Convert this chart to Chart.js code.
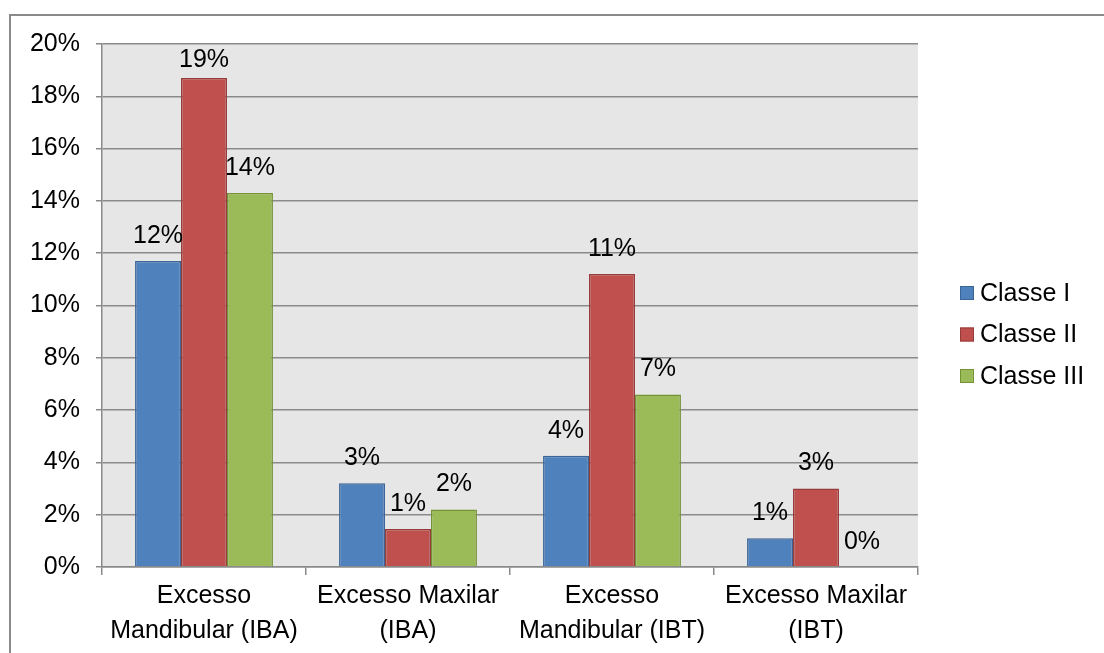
<!DOCTYPE html>
<html>
<head>
<meta charset="utf-8">
<script src="https://cdn.jsdelivr.net/npm/chart.js@4.4.0/dist/chart.umd.min.js"></script>
<style>
  html, body { margin: 0; padding: 0; background: #fff; }
  #wrap { position: relative; width: 1104px; height: 653px; }
</style>
</head>
<body>
<div id="wrap"><canvas id="chart" width="1104" height="653"></canvas></div>
<script>
// dati
var categorie = [
    ['Excesso', 'Mandibular (IBA)'],
    ['Excesso Maxilar', '(IBA)'],
    ['Excesso', 'Mandibular (IBT)'],
    ['Excesso Maxilar', '(IBT)']
];
var nomiSerie = ['Classe I', 'Classe II', 'Classe III'];
var classe1 = [0.117, 0.032, 0.0425, 0.011];
var classe2 = [0.187, 0.0145, 0.112, 0.030];
var classe3 = [0.143, 0.022, 0.066, 0.0];

var colori = ['#4F81BD', '#C0504D', '#9BBB59'];
var bordi = ['#3B6497', '#953B39', '#769237'];
var FONT = "'Liberation Sans', Arial, sans-serif";
var GRIGIO = '#8A8A8A';

//Plugin: sfondo area del grafico e cornice esterna
var sfondo = {
    id: 'sfondo',
    beforeDraw: function(chart){
        var ctx = chart.ctx, a = chart.chartArea;
        ctx.save();
        ctx.fillStyle = '#E6E6E6';
        ctx.fillRect(a.left, a.top, a.right - a.left, a.bottom - a.top);
        ctx.strokeStyle = GRIGIO;
        ctx.lineWidth = 2;
        ctx.beginPath();
        ctx.moveTo(10, 653);
        ctx.lineTo(10, 15);
        ctx.lineTo(1104, 15);
        ctx.stroke();
        ctx.restore();
    }
};

//Plugin: etichette percentuali sopra le barre
var etichette = {
    id: 'etichette',
    afterDatasetsDraw: function(chart){
        var ctx = chart.ctx;
        ctx.save();
        ctx.font = '25px ' + FONT;
        ctx.fillStyle = '#000';
        ctx.textAlign = 'center';
        ctx.textBaseline = 'middle';
        chart.data.datasets.forEach(function(ds, i){
            var meta = chart.getDatasetMeta(i);
            meta.data.forEach(function(el, j){
                var y = Math.max(el.y - 25, 60);
                ctx.fillText(Math.round(ds.data[j] * 100) + '%', el.x, y);
            });
        });
        ctx.restore();
    }
};

//Plugin: legenda disegnata a mano sulla destra
var legenda = {
    id: 'legenda',
    afterDraw: function(chart){
        var ctx = chart.ctx;
        ctx.save();
        ctx.font = '25px ' + FONT;
        ctx.textBaseline = 'middle';
        ctx.textAlign = 'left';
        chart.data.datasets.forEach(function(ds, i){
            var y = 293 + i * 41.5;
            ctx.fillStyle = ds.backgroundColor;
            ctx.fillRect(960, y - 7, 14, 14);
            ctx.strokeStyle = ds.borderColor;
            ctx.lineWidth = 1;
            ctx.strokeRect(960.5, y - 6.5, 13, 13);
            ctx.fillStyle = '#000';
            ctx.fillText(ds.label, 980, y + 1);
        });
        ctx.restore();
    }
};

var ctx1 = document.getElementById('chart');

var chart = new Chart(ctx1, {
    type: 'bar',
    data: {
        labels: categorie,
        datasets: [classe1, classe2, classe3].map(function(d, i){
            return {
                label: nomiSerie[i],
                data: d,
                backgroundColor: colori[i],
                borderColor: bordi[i],
                borderWidth: 1.5,
                borderSkipped: 'bottom'
            };
        })
    },
    options: {
        responsive: false,
        animation: false,
        devicePixelRatio: 1,
        layout: { padding: { left: 0, top: 44, right: 186, bottom: 0 } },
        categoryPercentage: 0.676,
        barPercentage: 1,
        plugins: {
            legend: { display: false },
            tooltip: { enabled: false }
        },
        scales: {
            x: {
                afterFit: function(s){ s.height = 86; },
                grid: {
                    offset: true,
                    drawOnChartArea: false,
                    drawTicks: true,
                    tickLength: 8,
                    color: GRIGIO,
                    lineWidth: 1.5
                },
                border: { color: GRIGIO, width: 1.5 },
                ticks: {
                    color: '#000',
                    padding: 4,
                    maxRotation: 0,
                    autoSkip: false,
                    font: { family: FONT, size: 25, lineHeight: 1.4 }
                }
            },
            y: {
                min: 0,
                max: 0.2,
                afterFit: function(s){ s.width = 102; },
                grid: {
                    color: GRIGIO,
                    lineWidth: 1.5,
                    tickLength: 6
                },
                border: { color: GRIGIO, width: 1.5 },
                ticks: {
                    stepSize: 0.02,
                    color: '#000',
                    padding: 16,
                    font: { family: FONT, size: 25 },
                    callback: function(v){ return Math.round(v * 100) + '%'; }
                }
            }
        }
    },
    plugins: [sfondo, etichette, legenda]
});
</script>
</body>
</html>
